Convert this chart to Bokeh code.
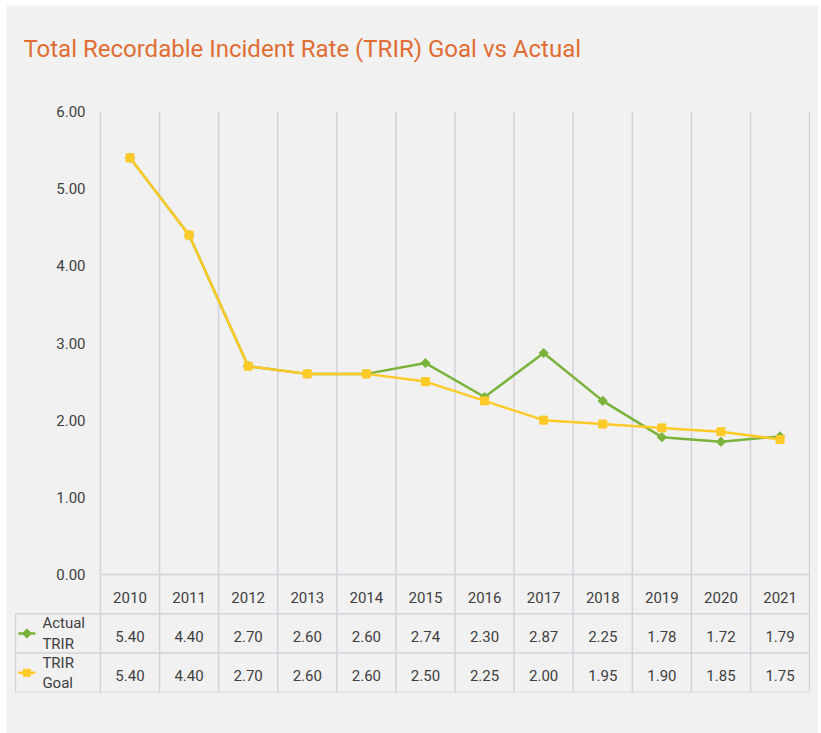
import math
from bokeh.plotting import figure
from bokeh.models import Range1d, FixedTicker, NumeralTickFormatter, Label
from bokeh.core.properties import value
from bokeh.embed import file_html
from bokeh.resources import INLINE

# ---- data ----
years = ["2010", "2011", "2012", "2013", "2014", "2015",
         "2016", "2017", "2018", "2019", "2020", "2021"]
actual_trir = [5.40, 4.40, 2.70, 2.60, 2.60, 2.74, 2.30, 2.87, 2.25, 1.78, 1.72, 1.79]
goal_trir = [5.40, 4.40, 2.70, 2.60, 2.60, 2.50, 2.25, 2.00, 1.95, 1.90, 1.85, 1.75]
series_names = ["Actual\nTRIR", "TRIR\nGoal"]
y_ticks = [0, 1, 2, 3, 4, 5, 6]
title_text = "Total Recordable Incident Rate (TRIR) Goal vs Actual"

# ---- styles ----
BG = "#f1f1f1"
GRID = "#d3d2da"
GREEN = "#7ab33b"
YELLOW = "#ffc928"
ORANGE = "#e06d33"
TXT = "#404040"
FONT = "Roboto"
FS = "15px"

n = len(years)
xc = [i + 0.5 for i in range(n)]
bounds = list(range(n + 1))

W, H = 812, 728
BL, BR, BT, BB = 8, 8, 0, 41
frame_w = W - BL - BR
frame_h = H - BT - BB
px_x = 59.1                      # px per category
xpad = 0.015
x_end = n + xpad
x_start = x_end - frame_w / px_x
lab_left = x_start + xpad
px_y = 77.17                     # px per TRIR unit
y_top = y_ticks[-1]
plot_top_px = 106                # distance of the 6.00 line below the frame top
y_hi = y_top + plot_top_px / px_y
y_bot = y_hi - frame_h / px_y
row_h = 39.3 / px_y
tbl_bot = -3 * row_h

p = figure(width=W, height=H, x_range=Range1d(x_start, x_end), y_range=Range1d(y_bot, y_hi),
           output_backend="svg", toolbar_location=None, x_axis_location=None,
           min_border_left=BL, min_border_right=BR, min_border_top=BT, min_border_bottom=BB)
p.margin = (5, 1, 0, 6)
p.background_fill_color = BG
p.border_fill_color = BG
p.outline_line_color = None
p.xgrid.visible = False
p.ygrid.visible = False

# title
p.add_layout(Label(x=lab_left + 8 / px_x, y=y_hi - 43 / px_y, text=title_text,
                   text_font=FONT, text_font_size="24px", text_font_style="normal",
                   text_color=ORANGE, text_align="left", text_baseline="alphabetic"))

p.yaxis.ticker = FixedTicker(ticks=y_ticks)
p.yaxis.formatter = NumeralTickFormatter(format="0.00")
p.yaxis.axis_line_color = None
p.yaxis.major_tick_line_color = None
p.yaxis.minor_tick_line_color = None
p.yaxis.major_tick_out = 0
p.yaxis.major_tick_in = 0
p.yaxis.major_label_standoff = -71
p.yaxis.major_label_text_font = FONT
p.yaxis.major_label_text_font_size = FS
p.yaxis.major_label_text_color = TXT

# category gridlines running through the chart and the data table
p.segment(x0=bounds, y0=[tbl_bot] * len(bounds), x1=bounds, y1=[y_top] * len(bounds),
          line_color=GRID, line_width=1.5)
# table borders
p.segment(x0=[lab_left], y0=[-row_h], x1=[lab_left], y1=[tbl_bot], line_color=GRID, line_width=1.5)
p.segment(x0=[0, lab_left, lab_left, lab_left], y0=[0, -row_h, -2 * row_h, tbl_bot],
          x1=[n] * 4, y1=[0, -row_h, -2 * row_h, tbl_bot], line_color=GRID, line_width=1.5)

# series
p.line(xc, actual_trir, line_color=GREEN, line_width=2.5)
p.scatter(xc, actual_trir, marker="square", angle=math.pi / 4, size=6.5,
          fill_color=GREEN, line_color=GREEN)
p.line(xc, goal_trir, line_color=YELLOW, line_width=2.5)
p.scatter(xc, goal_trir, marker="square", size=8, fill_color=YELLOW, line_color=YELLOW)

# table text
nudge = 3 / px_y
p.text(x=xc, y=[-0.5 * row_h - nudge] * n, text=years, text_align="center", text_baseline="middle",
       text_font=value(FONT), text_font_size=FS, text_color=TXT)
p.text(x=xc, y=[-1.5 * row_h - nudge] * n, text=[f"{v:.2f}" for v in actual_trir], text_align="center",
       text_baseline="middle", text_font=value(FONT), text_font_size=FS, text_color=TXT)
p.text(x=xc, y=[-2.5 * row_h - nudge] * n, text=[f"{v:.2f}" for v in goal_trir], text_align="center",
       text_baseline="middle", text_font=value(FONT), text_font_size=FS, text_color=TXT)

lab_x = lab_left + 27 / px_x
p.text(x=[lab_x, lab_x], y=[-1.5 * row_h, -2.5 * row_h], text=series_names, text_align="left",
       text_baseline="middle", text_font=value(FONT), text_font_size=FS, text_color=TXT,
       text_line_height=1.12)

# legend keys
k0 = lab_left + 3 / px_x
k1 = lab_left + 20 / px_x
km = (k0 + k1) / 2
p.segment(x0=[k0], y0=[-1.5 * row_h], x1=[k1], y1=[-1.5 * row_h], line_color=GREEN, line_width=2.5)
p.scatter([km], [-1.5 * row_h], marker="square", angle=math.pi / 4, size=6.5,
          fill_color=GREEN, line_color=GREEN)
p.segment(x0=[k0], y0=[-2.5 * row_h], x1=[k1], y1=[-2.5 * row_h], line_color=YELLOW, line_width=2.5)
p.scatter([km], [-2.5 * row_h], marker="square", size=7, fill_color=YELLOW, line_color=YELLOW)

open("out.html", "w").write(file_html(p, INLINE))
